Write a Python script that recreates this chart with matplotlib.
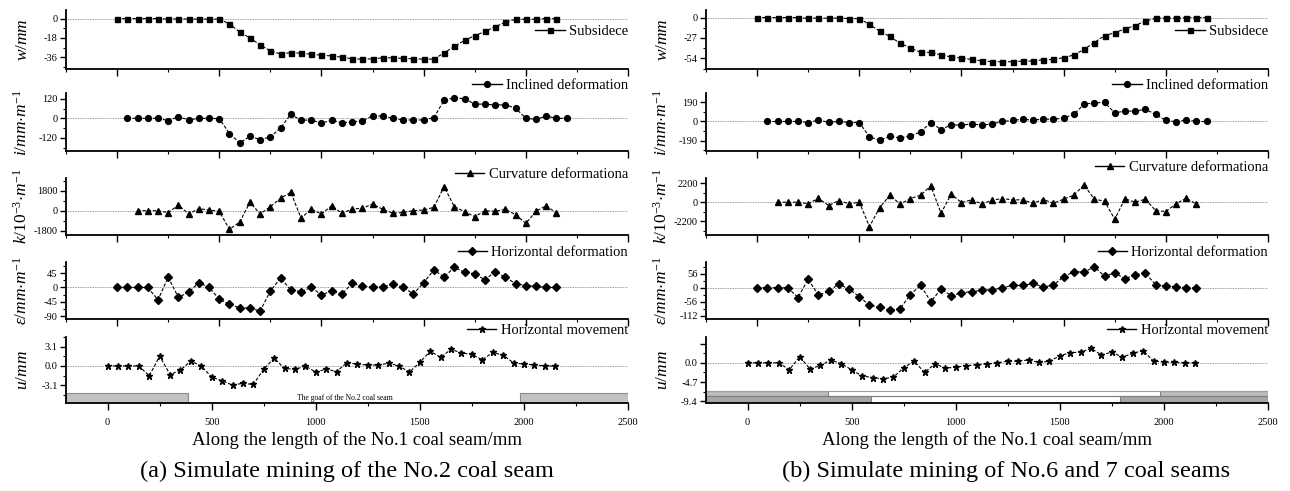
import matplotlib
matplotlib.use("Agg")
import matplotlib.pyplot as plt
from matplotlib.lines import Line2D
from matplotlib.patches import Rectangle
from matplotlib.ticker import (MultipleLocator, FixedLocator, FormatStrFormatter,
                               FuncFormatter)

plt.rcParams['font.family'] = 'Liberation Serif'
plt.rcParams['mathtext.fontset'] = 'custom'
plt.rcParams['mathtext.rm'] = 'Liberation Serif'
plt.rcParams['mathtext.it'] = 'Liberation Serif:italic'
plt.rcParams['axes.unicode_minus'] = False

# --- measuring stations along the No.1 seam (mm) ---
stations = [0, 50, 100, 150, 200, 250, 300, 350, 400, 450, 500, 550, 600, 650, 700,
            750, 800, 850, 900, 950, 1000, 1050, 1100, 1150, 1200, 1250, 1300, 1350,
            1400, 1450, 1500, 1550, 1600, 1650, 1700, 1750, 1800, 1850, 1900, 1950,
            2000, 2050, 2100, 2150, 2200]

# --- (a) mining of the No.2 seam ---
a_w = [0, 0, 0, 0, 0, -0.5, -0.3, -0.5, -0.5, -0.5, -0.5, -5, -12.6, -18, -24.6, -30,
       -33, -31.7, -32.3, -33.2, -34.2, -34.8, -36, -37.5, -37.8, -37.5, -36.6, -36.6,
       -37.2, -37.5, -37.8, -37.8, -32, -26, -20.3, -16, -12, -7.7, -3.4, -0.6, -0.6,
       -0.6, 0, 0]
a_i = [0, 0, 0, 0, -14, 10, -10, 0, 0, -2, -93, -151, -110, -130, -114, -58, 25, -12,
       -10, -29, -12, -27, -23, -14, 14, 14, 0, -10, -10, -10, 4, 110, 126, 120, 87, 87,
       81, 83, 62, 0, -6, 14, 0, 0]
a_k = [0, 0, 0, -180, 510, -300, 180, 60, -60, -1700, -1030, 760, -300, 360, 1120, 1660,
       -670, 120, -300, 450, -240, 150, 210, 600, 120, -240, -150, 0, 60, 300, 2180, 360,
       -90, -545, 0, -60, 120, -360, -1150, -60, 450, -240]
a_e = [0, 0, 0, 0, -39, 32, -31, -15, 15, 0, -37, -53, -64, -65, -74, -11, 30, -8, -13,
       0, -23, -11, -21, 13, 4, 2, 2, 11, 0, -20, 15, 55, 33, 63, 48, 43, 24, 50, 32, 12,
       6, 4, 0, 0]
a_u = [0, 0, 0, 0, -1.6, 1.6, -1.4, -0.65, 0.8, 0, -1.8, -2.4, -3.1, -2.8, -3.0, -0.5,
       1.25, -0.4, -0.55, 0, -1.0, -0.5, -0.9, 0.55, 0.27, 0.16, 0.16, 0.45, 0, -1.0, 0.6,
       2.4, 1.4, 2.7, 2.1, 1.9, 1.0, 2.2, 1.75, 0.5, 0.3, 0.2, 0, 0]

# --- (b) mining of the No.6 and 7 seams ---
b_w = [0, 0, 0, 0, 0, -1, -0.5, -1, -0.5, -1.4, -1.4, -9, -18, -25, -34, -40, -46, -46,
       -49.5, -52, -53.6, -55.4, -57.3, -58.2, -58.6, -58.2, -57.7, -57.3, -55.9, -55.4,
       -53, -49.5, -42, -33, -24, -20, -15, -10.5, -4.6, -1, -0.5, -1, 0, 0, 0]
b_i = [0, 0, 0, 0, -10, 13, -7, 0, -10, -10, -151, -183, -147, -160, -144, -102, -10,
       -79, -33, -36, -23, -36, -23, 0, 10, 23, 13, 26, 20, 36, 69, 170, 183, 187, 85, 102,
       102, 121, 69, 10, -3, 16, 0, 0]
b_k = [0, 0, 0, -190, 460, -390, 190, -190, 0, -2820, -620, 810, -230, 420, 810, 1890,
       -1270, 930, -40, 270, -190, 230, 420, 270, 270, -120, 310, -120, 350, 810, 2000,
       350, 120, -1970, 390, 0, 350, -970, -1080, -190, 460, -230]
b_e = [0, 0, 0, 0, -39, 34, -30, -14, 15, -6, -35, -70, -76, -89, -83, -27, 9, -55, -6,
       -31, -21, -15, -10, -8, 0, 9, 9, 17, 3, 10, 44, 63, 62, 83, 46, 59, 35, 52, 58, 12,
       6, 4, 0, 0]
b_u = [0, 0, 0, 0, -1.7, 1.5, -1.5, -0.65, 0.7, -0.25, -1.7, -3.2, -3.6, -3.9, -3.5,
       -1.2, 0.4, -2.35, -0.25, -1.3, -1.05, -0.7, -0.5, -0.3, 0, 0.4, 0.4, 0.7, 0.1, 0.4,
       1.7, 2.5, 2.6, 3.5, 1.95, 2.6, 1.4, 2.3, 3.0, 0.4, 0.25, 0.1, 0, 0]

# first station of each series (w, i, k, e, u)
first_station = [0, 50, 100, 0, 0]

legend_names = ["Subsidece", "Inclined deformation", "Curvature deformationa",
                "Horizontal deformation", "Horizontal movement"]
ylabels = [r"$w/mm$", r"$i/mm{\cdot}m^{-1}$", r"$k/\mathrm{10}^{-3}{\cdot}m^{-1}$",
           r"$\varepsilon/mm{\cdot}m^{-1}$", r"$u/mm$"]
a_ticks = [[0, -18, -36], [120, 0, -120], [1800, 0, -1800], [45, 0, -45, -90], [3.1, 0.0, -3.1]]
b_ticks = [[0, -27, -54], [190, 0, -190], [2200, 0, -2200], [56, 0, -56, -112], [4.7, 0.0, -4.7, -9.4]]

# goaf extents (mm) shown along the base of the u panels
a_goaf_solid = [(-200, 384), (1982, 2500)]
b_goaf_upper = [(-200, 384), (1982, 2500)]
b_goaf_lower = [(-200, 592), (1791, 2500)]

markers = ['s', 'o', '^', 'D', '*']
msizes = [3.6, 4.2, 4.4, 3.8, 5.0]

W, H = 1290, 491
rows_px = [(10, 69), (93, 151), (178, 235), (262, 319), (337, 403)]
a_ylims = [(-47, 8), (-200, 155), (-2200, 2950), (-99, 80), (-6.0, 4.7)]
b_ylims = [(-68, 10), (-290, 280), (-3800, 2800), (-124, 102), (-9.8, 6.3)]
a_leg_y = [0.64, 1.13, 1.06, 1.17, 1.10]
b_leg_y = [0.64, 1.13, 1.19, 1.17, 1.10]


def draw_column(fig, left_px, series, yticks, ylims, leg_y, minor_steps, fmt_last):
    axes = []
    for r, (top, bot) in enumerate(rows_px):
        ax = fig.add_axes([left_px / W, 1 - bot / H, 562 / W, (bot - top) / H])
        vals = series[r]
        i0 = stations.index(first_station[r])
        xs = stations[i0:i0 + len(vals)]
        ax.axhline(0, color='#7a7a7a', lw=0.6, ls=(0, (1, 1)), zorder=1)
        ax.plot(xs, vals, color='black', lw=0.8, ls=(0, (3, 1.6)), marker=markers[r],
                ms=msizes[r], mfc='black', mec='black', zorder=3)
        handle = Line2D([], [], color='black', lw=1.0, marker=markers[r], ms=msizes[r])
        ax.legend([handle], [legend_names[r]], loc='center right',
                  bbox_to_anchor=(1.0, leg_y[r]), frameon=False, fontsize=10.5,
                  handlelength=2.0, handletextpad=0.3, borderaxespad=0, borderpad=0)
        ax.set_ylim(*ylims[r])
        ax.yaxis.set_major_locator(FixedLocator(yticks[r]))
        ax.yaxis.set_minor_locator(MultipleLocator(minor_steps[r]))
        for side in ('top', 'right'):
            ax.spines[side].set_visible(False)
        for side in ('left', 'bottom'):
            ax.spines[side].set_linewidth(1.3)
        ax.tick_params(which='major', direction='out', length=4, width=1, labelsize=7.5, pad=2)
        ax.tick_params(which='minor', direction='out', length=2.2, width=0.8)
        ax.tick_params(axis='x', which='major', length=5)
        if r == 4:
            ax.set_xlim(-200, 2500)
            ax.yaxis.set_major_formatter(fmt_last)
            ax.tick_params(axis='x', which='major', pad=6)
        else:
            ax.set_xlim(-250, 2500)
            ax.tick_params(axis='x', labelbottom=False)
        ax.xaxis.set_major_locator(MultipleLocator(500))
        ax.xaxis.set_minor_locator(MultipleLocator(250))
        ax.set_ylabel(ylabels[r], fontsize=12.5)
        ax.yaxis.set_label_coords(-0.062, 0.5)
        ax.patch.set_alpha(0)
        axes.append(ax)
    return axes


def b_u_fmt(v, pos):
    # the top major tick of this panel carries no label
    return "" if v > 1 else f"{v:.1f}"


fig = plt.figure(figsize=(W / 100, H / 100), dpi=100)

a_axes = draw_column(fig, 66, [a_w, a_i, a_k, a_e, a_u], a_ticks, a_ylims, a_leg_y,
                     [9, 60, 900, 22.5, 1.55], FormatStrFormatter('%.1f'))
b_axes = draw_column(fig, 706, [b_w, b_i, b_k, b_e, b_u], b_ticks, b_ylims, b_leg_y,
                     [13.5, 95, 1100, 28, 2.35], FuncFormatter(b_u_fmt))

# goaf strip, panel (a)
ax = a_axes[4]
y0 = a_ylims[4][0]
for x0, x1 in a_goaf_solid:
    ax.add_patch(Rectangle((x0, y0), x1 - x0, 1.65, facecolor='#c2c2c2',
                           edgecolor='#8c8c8c', lw=0.8, zorder=2))
ax.text(1141, y0 + 0.85, "The goaf of the No.2 coal seam", fontsize=5.5,
        ha='center', va='center')

# goaf strips, panel (b): No.6 seam above, No.7 seam below
ax = b_axes[4]
y0 = b_ylims[4][0]
for x0, x1 in b_goaf_upper:
    ax.add_patch(Rectangle((x0, y0 + 1.8), x1 - x0, 1.2, facecolor='#bdbdbd',
                           edgecolor='#808080', lw=0.8, zorder=2))
for x0, x1 in b_goaf_lower:
    ax.add_patch(Rectangle((x0, y0), x1 - x0, 1.8, facecolor='#a6a6a6',
                           edgecolor='#808080', lw=0.8, zorder=2))
ax.add_patch(Rectangle((-200, y0 + 1.8), 2700, 1.2, facecolor='none',
                       edgecolor='#a0a0a0', lw=0.8, zorder=2))
ax.add_patch(Rectangle((-200, y0), 2700, 1.8, facecolor='none',
                       edgecolor='#808080', lw=0.8, zorder=2))

fig.text(357 / W, 1 - 440 / H, "Along the length of the No.1 coal seam/mm",
         ha='center', va='center', fontsize=13.5)
fig.text(987 / W, 1 - 440 / H, "Along the length of the No.1 coal seam/mm",
         ha='center', va='center', fontsize=13.5)
fig.text(347 / W, 1 - 471 / H, "(a) Simulate mining of the No.2 coal seam",
         ha='center', va='center', fontsize=17.5)
fig.text(1006 / W, 1 - 471 / H, "(b) Simulate mining of No.6 and 7 coal seams",
         ha='center', va='center', fontsize=17.5)

fig.savefig("out.png", dpi=100)
